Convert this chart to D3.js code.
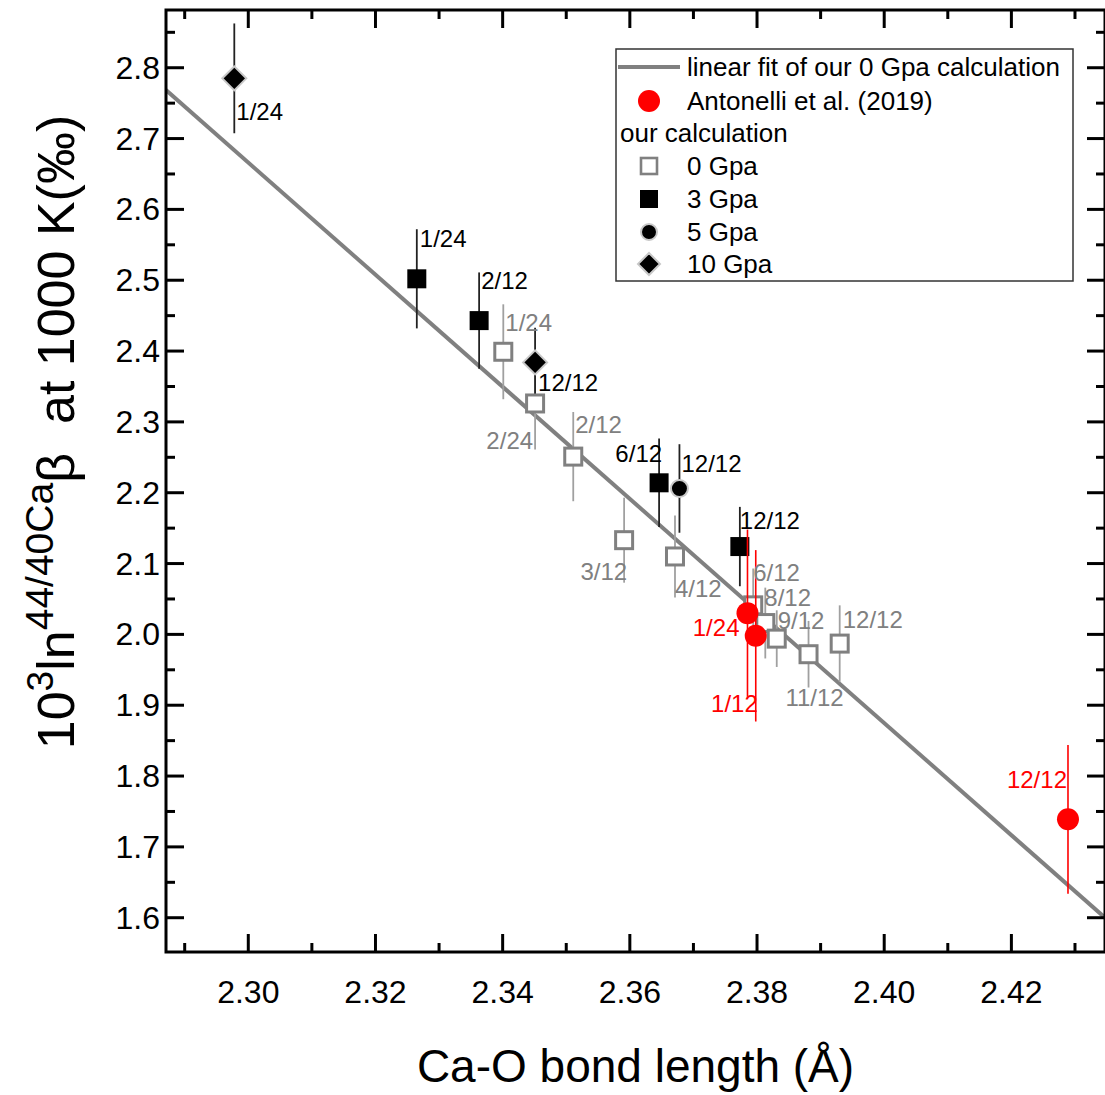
<!DOCTYPE html>
<html><head><meta charset="utf-8">
<script src="https://cdn.jsdelivr.net/npm/d3@7"></script>
<style>body{margin:0;background:#fff}svg{display:block}</style>
</head><body><svg id="c" width="1105" height="1095"></svg>
<script>
// ---------- data ----------
const xMajorTicks = [2.30, 2.32, 2.34, 2.36, 2.38, 2.40, 2.42];
const xMinorTicks = [2.29, 2.31, 2.33, 2.35, 2.37, 2.39, 2.41, 2.43];
const yMajorTicks = [1.6, 1.7, 1.8, 1.9, 2.0, 2.1, 2.2, 2.3, 2.4, 2.5, 2.6, 2.7, 2.8];
const yMinorTicks = [1.65, 1.75, 1.85, 1.95, 2.05, 2.15, 2.25, 2.35, 2.45, 2.55, 2.65, 2.75, 2.85];

const gpa0Labels = ["1/24", "2/24", "2/12", "3/12", "4/12", "6/12", "8/12", "9/12", "11/12", "12/12"];
const gpa0X = [2.3401, 2.3451, 2.3511, 2.3591, 2.3671, 2.3794, 2.3813, 2.3831, 2.3881, 2.3930];
const gpa0Y = [2.399, 2.326, 2.251, 2.133, 2.110, 2.041, 2.016, 1.994, 1.972, 1.987];
const gpa0Err = [0.067, 0.065, 0.063, 0.060, 0.058, 0.052, 0.050, 0.040, 0.047, 0.054];

const gpa3Labels = ["1/24", "2/12", "6/12", "12/12"];
const gpa3X = [2.3265, 2.3363, 2.3646, 2.3773];
const gpa3Y = [2.502, 2.443, 2.214, 2.124];
const gpa3Err = [0.070, 0.068, 0.0625, 0.056];

const gpa5Labels = ["12/12"];
const gpa5X = [2.3678];
const gpa5Y = [2.206];
const gpa5Err = [0.0625];

const gpa10Labels = ["1/24", "12/12"];
const gpa10X = [2.2978, 2.3451];
const gpa10Y = [2.785, 2.384];
const gpa10Err = [0.0775, 0.049];

const antLabels = ["1/24", "1/12", "12/12"];
const antX = [2.3785, 2.3798, 2.4289];
const antY = [2.030, 1.998, 1.739];
const antErr = [0.118, 0.121, 0.105];

// linear fit of 0 GPa: y = intercept + slope * x
const fitSlope = -7.913;
const fitIntercept = 20.866;

const legendNames = ["linear fit of our 0 Gpa calculation", "Antonelli et al. (2019)", "our calculation", "0 Gpa", "3 Gpa", "5 Gpa", "10 Gpa"];

// ---------- layout / style ----------
const L = 166, R = 1105, T = 10, B = 952;
const FONT = "'Liberation Sans', Arial, sans-serif";
const GRAY = "#808080";

// label placement (dx, dy from marker in px, anchor)
const gpa0LabelPos = [[2,-29,"start"],[-2,37,"end"],[2,-32,"start"],[3,31,"end"],[0,32,"start"],[0,-33,"start"],[-1,-26,"start"],[1,-18,"start"],[6,43,"middle"],[3,-24,"start"]];
const gpa3LabelPos = [[3,-40,"start"],[2,-40,"start"],[3,-29,"end"],[0,-26,"start"]];
const gpa5LabelPos = [[2,-25,"start"]];
const gpa10LabelPos = [[2,33,"start"],[3,20,"start"]];
const antLabelPos = [[-8,14,"end"],[2,68,"end"],[-1,-40,"end"]];

const svg = d3.select("#c");
const x = d3.scaleLinear().domain([2.28706, 2.43472]).range([L, R]);
const y = d3.scaleLinear().domain([1.5516, 2.8815]).range([B, T]);

const zip = (xs, ys, es, ls) => xs.map((v, i) => ({x: v, y: ys[i], e: es[i], l: ls[i], i}));

svg.append("defs").append("clipPath").attr("id", "clip")
  .append("rect").attr("x", L).attr("y", T).attr("width", R - L).attr("height", B - T);
const g = svg.append("g").attr("clip-path", "url(#clip)");

// fit line
const fx = x.domain();
g.append("line")
  .attr("x1", x(fx[0])).attr("y1", y(fitIntercept + fitSlope * fx[0]))
  .attr("x2", x(fx[1])).attr("y2", y(fitIntercept + fitSlope * fx[1]))
  .attr("stroke", GRAY).attr("stroke-width", 4);

function errBars(data, color, w) {
  g.selectAll(null).data(data).enter().append("line")
    .attr("x1", d => x(d.x)).attr("x2", d => x(d.x))
    .attr("y1", d => y(d.y + d.e)).attr("y2", d => y(d.y - d.e))
    .attr("stroke", color).attr("stroke-width", w);
}
function labels(data, pos, color) {
  g.selectAll(null).data(data).enter().append("text")
    .attr("x", d => x(d.x) + pos[d.i][0]).attr("y", d => y(d.y) + pos[d.i][1])
    .attr("text-anchor", d => pos[d.i][2]).attr("dominant-baseline", "central")
    .attr("font-family", FONT).attr("font-size", 24).attr("fill", color)
    .text(d => d.l);
}

const d0 = zip(gpa0X, gpa0Y, gpa0Err, gpa0Labels);
const d3s = zip(gpa3X, gpa3Y, gpa3Err, gpa3Labels);
const d5 = zip(gpa5X, gpa5Y, gpa5Err, gpa5Labels);
const d10 = zip(gpa10X, gpa10Y, gpa10Err, gpa10Labels);
const dA = zip(antX, antY, antErr, antLabels);

errBars(d0, "#a0a0a0", 1.8);
errBars(d3s, "#222", 1.8);
errBars(d5, "#222", 1.8);
errBars(d10, "#222", 1.8);

// 0 GPa open squares
g.selectAll(null).data(d0).enter().append("rect")
  .attr("x", d => x(d.x) - 8.5).attr("y", d => y(d.y) - 8.5).attr("width", 17).attr("height", 17)
  .attr("fill", "#fff").attr("stroke", GRAY).attr("stroke-width", 3);
// 3 GPa filled squares
g.selectAll(null).data(d3s).enter().append("rect")
  .attr("x", d => x(d.x) - 9.5).attr("y", d => y(d.y) - 9.5).attr("width", 19).attr("height", 19)
  .attr("fill", "#000");
// 5 GPa circles
g.selectAll(null).data(d5).enter().append("circle")
  .attr("cx", d => x(d.x)).attr("cy", d => y(d.y)).attr("r", 8.5)
  .attr("fill", "#000").attr("stroke", "#c8c8c8").attr("stroke-width", 2);
// 10 GPa diamonds
g.selectAll(null).data(d10).enter().append("path")
  .attr("d", d => { const cx = x(d.x), cy = y(d.y), s = 12; return `M${cx},${cy - s}L${cx + s},${cy}L${cx},${cy + s}L${cx - s},${cy}Z`; })
  .attr("fill", "#000").attr("stroke", "#c8c8c8").attr("stroke-width", 2);

// Antonelli
errBars(dA, "#ff0000", 1.6);
g.selectAll(null).data(dA).enter().append("circle")
  .attr("cx", d => x(d.x)).attr("cy", d => y(d.y)).attr("r", 11).attr("fill", "#ff0000");

labels(d0, gpa0LabelPos, GRAY);
labels(d3s, gpa3LabelPos, "#000");
labels(d5, gpa5LabelPos, "#000");
labels(d10, gpa10LabelPos, "#000");
labels(dA, antLabelPos, "#ff0000");

// ---------- axes / frame ----------
const ax = svg.append("g");
ax.append("rect").attr("x", L).attr("y", T).attr("width", R - L).attr("height", B - T)
  .attr("fill", "none").attr("stroke", "#000").attr("stroke-width", 3);

function xTicks(vals, len) {
  ax.selectAll(null).data(vals).enter().append("line")
    .attr("x1", d => x(d)).attr("x2", d => x(d)).attr("y1", B).attr("y2", B - len)
    .attr("stroke", "#000").attr("stroke-width", 3);
  ax.selectAll(null).data(vals).enter().append("line")
    .attr("x1", d => x(d)).attr("x2", d => x(d)).attr("y1", T).attr("y2", T + len)
    .attr("stroke", "#000").attr("stroke-width", 3);
}
function yTicks(vals, len) {
  ax.selectAll(null).data(vals).enter().append("line")
    .attr("y1", d => y(d)).attr("y2", d => y(d)).attr("x1", L).attr("x2", L + len)
    .attr("stroke", "#000").attr("stroke-width", 3);
  ax.selectAll(null).data(vals).enter().append("line")
    .attr("y1", d => y(d)).attr("y2", d => y(d)).attr("x1", R).attr("x2", R - len)
    .attr("stroke", "#000").attr("stroke-width", 3);
}
xTicks(xMajorTicks, 18); xTicks(xMinorTicks, 9);
yTicks(yMajorTicks, 18); yTicks(yMinorTicks, 9);

ax.selectAll(null).data(xMajorTicks).enter().append("text")
  .attr("x", d => x(d)).attr("y", 1003).attr("text-anchor", "middle")
  .attr("font-family", FONT).attr("font-size", 32).text(d => d3.format(".2f")(d));
ax.selectAll(null).data(yMajorTicks).enter().append("text")
  .attr("x", 160).attr("y", d => y(d)).attr("text-anchor", "end").attr("dominant-baseline", "central")
  .attr("font-family", FONT).attr("font-size", 32).text(d => d3.format(".1f")(d));

// axis titles
svg.append("text").attr("x", (L + R) / 2).attr("y", 1082).attr("text-anchor", "middle")
  .attr("font-family", FONT).attr("font-size", 46).text("Ca-O bond length (Å)");

const yt = svg.append("text").attr("transform", "translate(74,432) rotate(-90)")
  .attr("text-anchor", "middle").attr("font-family", FONT).attr("font-size", 52);
yt.append("tspan").text("10");
yt.append("tspan").attr("font-size", 37).attr("dy", -21).text("3");
yt.append("tspan").attr("dy", 21).text("ln");
yt.append("tspan").attr("font-size", 39).attr("dy", -21).text("44/40Ca");
yt.append("tspan").attr("dy", 21).text("β");
yt.append("tspan").text("\u00a0 at 1000 K(‰)");

// ---------- legend ----------
const lg = svg.append("g");
lg.append("rect").attr("x", 616).attr("y", 49).attr("width", 457).attr("height", 232)
  .attr("fill", "#fff").attr("stroke", "#333").attr("stroke-width", 1.5);
const rowY = [67, 101, 133, 166, 199, 232, 264];
const tx = 687;
legendNames.forEach((n, i) => {
  lg.append("text").attr("x", i === 2 ? 620 : tx).attr("y", rowY[i]).attr("dominant-baseline", "central")
    .attr("font-family", FONT).attr("font-size", 26).text(n);
});
const mx = 649;
lg.append("line").attr("x1", 618).attr("x2", 680).attr("y1", rowY[0]).attr("y2", rowY[0])
  .attr("stroke", GRAY).attr("stroke-width", 4);
lg.append("circle").attr("cx", mx).attr("cy", rowY[1]).attr("r", 11).attr("fill", "#ff0000");
lg.append("rect").attr("x", mx - 8).attr("y", rowY[3] - 8).attr("width", 16).attr("height", 16)
  .attr("fill", "#fff").attr("stroke", GRAY).attr("stroke-width", 2.6);
lg.append("rect").attr("x", mx - 9).attr("y", rowY[4] - 9).attr("width", 18).attr("height", 18).attr("fill", "#000");
lg.append("circle").attr("cx", mx).attr("cy", rowY[5]).attr("r", 8).attr("fill", "#000").attr("stroke", "#c8c8c8").attr("stroke-width", 2);
lg.append("path").attr("d", `M${mx},${rowY[6] - 11}L${mx + 11},${rowY[6]}L${mx},${rowY[6] + 11}L${mx - 11},${rowY[6]}Z`)
  .attr("fill", "#000").attr("stroke", "#c8c8c8").attr("stroke-width", 2);
</script>
</body></html>
